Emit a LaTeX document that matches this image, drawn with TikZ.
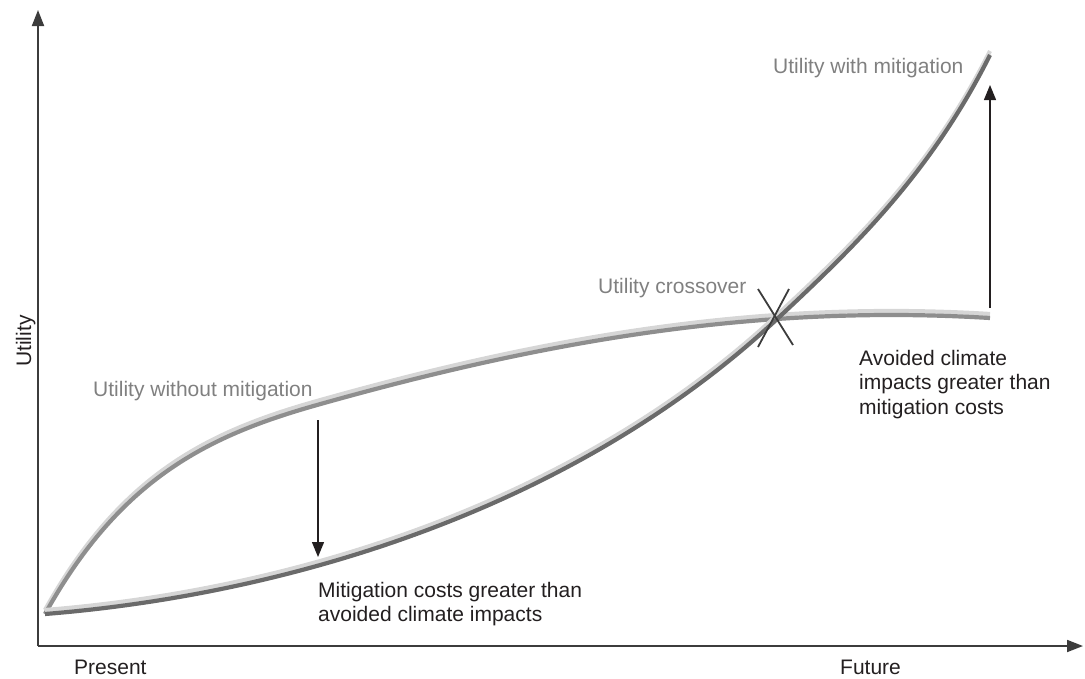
\documentclass[tikz,border=0pt]{standalone}
\usepackage{fontspec}
\setmainfont{Liberation Sans}
\usetikzlibrary{arrows.meta}
\definecolor{txtblack}{HTML}{231F20}
\definecolor{txtgray}{HTML}{808080}
\definecolor{axisgray}{HTML}{3C3C3C}
\definecolor{ribLight}{HTML}{D6D6D6}
\definecolor{ribDarkA}{HTML}{8E8E8E}
\definecolor{ribDarkB}{HTML}{6A6A6A}
\tikzset{
  lbl/.style={inner sep=0pt, font={\fontsize{21}{24.5}\selectfont}, text=txtblack},
  graylbl/.style={lbl, text=txtgray},
  axisline/.style={draw=axisgray, line width=1.8pt, -{Triangle[length=16pt,width=12pt]}},
  gaparrow/.style={draw=txtblack, line width=1.3pt, -{Triangle[length=15pt,width=12pt]}},
  xmark/.style={draw=axisgray, line width=1.8pt},
  riblight/.style={draw=ribLight, line width=4.2pt},
}
\newcommand\ribbon[2]{%
  \draw[riblight, yshift=2pt] #2;
  \draw[draw=#1, line width=4.2pt, yshift=-2pt] #2;
}
\begin{document}
\begin{tikzpicture}[x=1pt,y=-1pt]
\useasboundingbox (0,0) rectangle (1085,678);
% axes
\coordinate (O) at (38,646);
\coordinate (ytop) at (38,10);
\coordinate (xend) at (1083,646);
\draw[axisline] (O) -- (ytop);
\draw[axisline] (O) -- (xend);
% curves
\ribbon{ribDarkA}{(45,612) .. controls (120,477) and (207,434) .. (317,403) .. controls (547,338) and (760,302) .. (990,316)}
\ribbon{ribDarkB}{(45,612) .. controls (295,592) and (576,504) .. (776,318) .. controls (851,248) and (930,173) .. (990,53)}
% crossover mark
\coordinate (x1a) at (758,289);
\coordinate (x1b) at (793,345);
\coordinate (x2a) at (789,289);
\coordinate (x2b) at (758,347);
\draw[xmark] (x1a) -- (x1b);
\draw[xmark] (x2a) -- (x2b);
% gap arrows
\coordinate (a1s) at (318,420);
\coordinate (a1e) at (318,557);
\coordinate (a2s) at (990,308);
\coordinate (a2e) at (990,85);
\draw[gaparrow] (a1s) -- (a1e);
\draw[gaparrow] (a2s) -- (a2e);
% labels
\node[graylbl, anchor=base west] (without) at (93,396) {Utility without mitigation};
\node[graylbl, anchor=base west] (cross) at (598,293) {Utility crossover};
\node[graylbl, anchor=base west] (with) at (773,73) {Utility with mitigation};
\node[lbl, anchor=north west, align=left] (costs) at (318,581.7) {Mitigation costs greater than\\avoided climate impacts};
\node[lbl, anchor=north west, align=left] (avoided) at (859,349.7) {Avoided climate\\impacts greater than\\mitigation costs};
\node[lbl, anchor=base west] (present) at (74,674) {Present};
\node[lbl, anchor=base west] (future) at (840,674) {Future};
\node[lbl, anchor=base, rotate=90] (utility) at (31,341) {Utility};
\end{tikzpicture}
\end{document}
